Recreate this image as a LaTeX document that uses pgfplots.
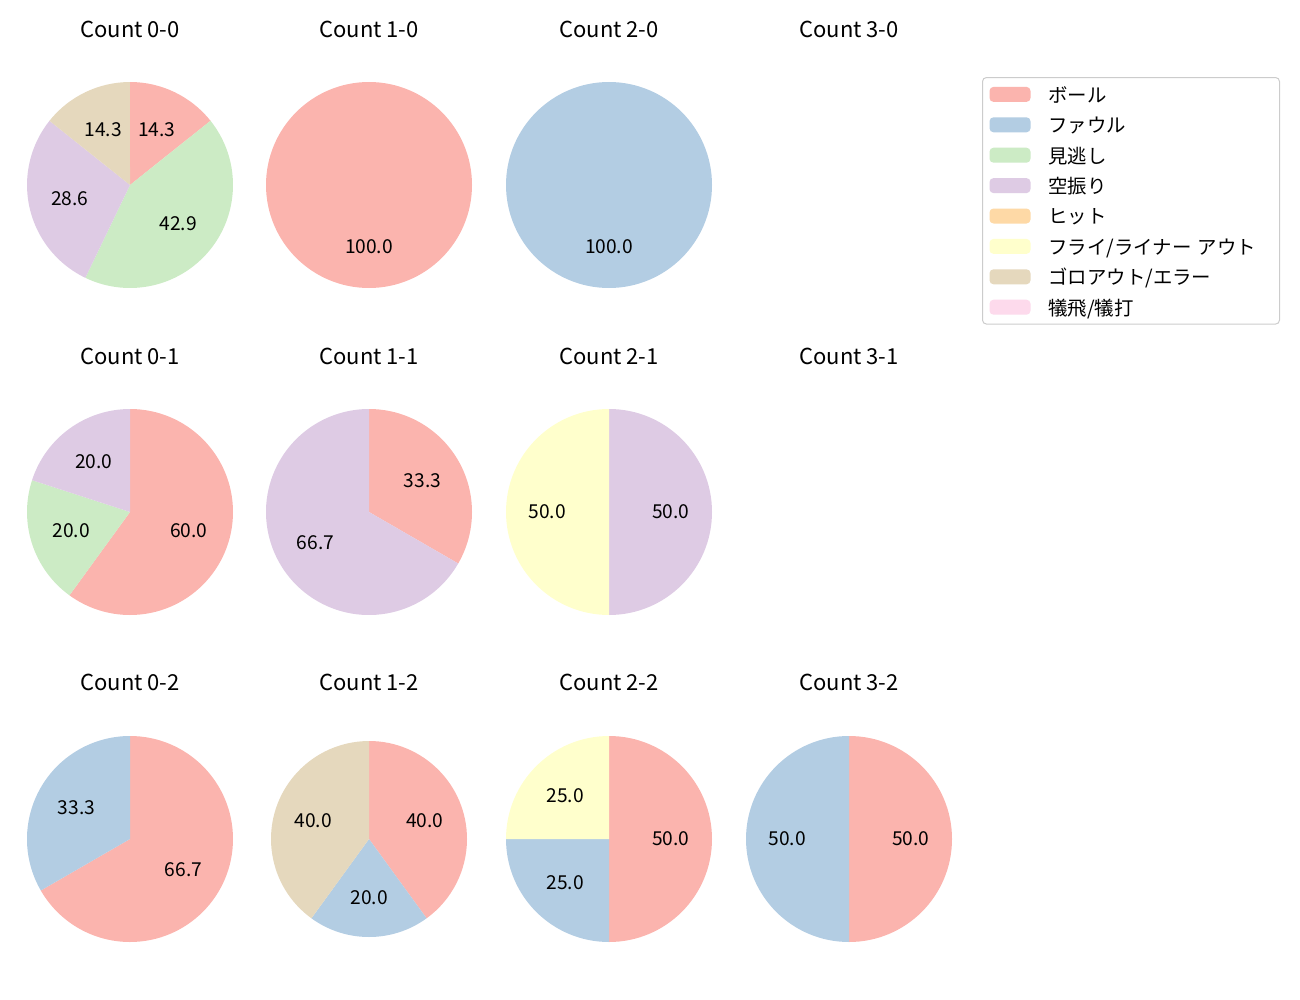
\documentclass[border=0pt]{standalone}
\usepackage{fontspec}
\setmainfont{Noto Sans CJK JP}
\usepackage{pgfplots}
\pgfplotsset{compat=1.18}
\pgfkeys{/pgf/number format/assume math mode=true}
\definecolor{c1}{HTML}{FBB4AE}
\definecolor{c2}{HTML}{B3CDE3}
\definecolor{c3}{HTML}{CCEBC5}
\definecolor{c4}{HTML}{DECBE4}
\definecolor{c5}{HTML}{FED9A6}
\definecolor{c6}{HTML}{FFFFCC}
\definecolor{c7}{HTML}{E5D8BD}
\definecolor{c8}{HTML}{FDDAEC}
\newcommand{\R}{51.5pt}
\newcommand{\titlefont}{\fontsize{11}{13}\selectfont}
\newcommand{\lblfont}{\fontsize{9.6}{11}\selectfont}
% \slice{cumulative count}{count}{total}{colour}
\newcommand{\slice}[4]{%
  \fill[#4] (axis cs:0,0) -- (axis cs:{cos(90-360*(#1)/(#3))},{sin(90-360*(#1)/(#3))})
    arc[start angle={90-360*(#1)/(#3)}, end angle={90-360*(#1+#2)/(#3)}, radius=\R] -- cycle;
  \node[font=\lblfont, inner sep=0pt] at (axis cs:{0.6*cos(90-360*(#1+0.5*#2)/(#3))},{0.6*sin(90-360*(#1+0.5*#2)/(#3))})
    {\pgfmathparse{100*(#2)/(#3)}\pgfmathprintnumber[fixed,fixed zerofill,precision=1,assume math mode=true]{\pgfmathresult}};}
\pgfplotsset{pie/.style={scale only axis, width=103pt, height=103pt, hide axis,
  xmin=-1, xmax=1, ymin=-1, ymax=1, anchor=center, clip=false}}
\begin{document}
\begin{tikzpicture}
\useasboundingbox (0,0) rectangle (650pt,-500pt);
% titles
\foreach \cx/\ty/\t in {65/14.5/Count 0-0, 184.5/14.5/Count 1-0, 304.5/14.5/Count 2-0, 424.5/14.5/Count 3-0,
  65/178/Count 0-1, 184.5/178/Count 1-1, 304.5/178/Count 2-1, 424.5/178/Count 3-1,
  65/341/Count 0-2, 184.5/341/Count 1-2, 304.5/341/Count 2-2, 424.5/341/Count 3-2}
  {\node[font=\titlefont] at (\cx pt,-\ty pt) {\t};}
% Count 0-0
\begin{axis}[pie, at={(65pt,-92.5pt)}]
\slice{0}{1}{7}{c1}\slice{1}{3}{7}{c3}\slice{4}{2}{7}{c4}\slice{6}{1}{7}{c7}
\end{axis}
% Count 1-0
\begin{axis}[pie, at={(184.5pt,-92.5pt)}]
\slice{0}{1}{1}{c1}
\end{axis}
% Count 2-0
\begin{axis}[pie, at={(304.5pt,-92.5pt)}]
\slice{0}{1}{1}{c2}
\end{axis}
% Count 0-1
\begin{axis}[pie, at={(65pt,-256pt)}]
\slice{0}{3}{5}{c1}\slice{3}{1}{5}{c3}\slice{4}{1}{5}{c4}
\end{axis}
% Count 1-1
\begin{axis}[pie, at={(184.5pt,-256pt)}]
\slice{0}{1}{3}{c1}\slice{1}{2}{3}{c4}
\end{axis}
% Count 2-1
\begin{axis}[pie, at={(304.5pt,-256pt)}]
\slice{0}{1}{2}{c4}\slice{1}{1}{2}{c6}
\end{axis}
% Count 0-2
\begin{axis}[pie, at={(65pt,-419.5pt)}]
\slice{0}{2}{3}{c1}\slice{2}{1}{3}{c2}
\end{axis}
% Count 1-2
\renewcommand{\R}{49pt}
\begin{axis}[pie, width=98pt, height=98pt, at={(184.5pt,-419.5pt)}]
\slice{0}{2}{5}{c1}\slice{2}{1}{5}{c2}\slice{3}{2}{5}{c7}
\end{axis}
\renewcommand{\R}{51.5pt}
% Count 2-2
\begin{axis}[pie, at={(304.5pt,-419.5pt)}]
\slice{0}{2}{4}{c1}\slice{2}{1}{4}{c2}\slice{3}{1}{4}{c6}
\end{axis}
% Count 3-2
\begin{axis}[pie, at={(424.5pt,-419.5pt)}]
\slice{0}{1}{2}{c1}\slice{1}{1}{2}{c2}
\end{axis}
% legend
\begin{axis}[hide axis, scale only axis, width=10pt, height=10pt, at={(491pt,-38.5pt)}, anchor=north west,
  xmin=0, xmax=1, ymin=0, ymax=1,
  legend cell align=left,
  legend image code/.code={\fill[#1, draw=none] (0pt,-3.75pt) rectangle (20.5pt,3.75pt);},
  legend style={at={(0,1)}, anchor=north west, draw=black!20, rounded corners=2pt, line width=0.5pt,
    inner xsep=3.5pt, inner ysep=4.2pt, font=\fontsize{9.7}{11}\selectfont, row sep=6.7pt, column sep=9pt,
    nodes={inner sep=0pt, text height=8.2pt, text depth=0.3pt, text width=112pt}}]
\addlegendimage{fill=c1}\addlegendentry{ボール}
\addlegendimage{fill=c2}\addlegendentry{ファウル}
\addlegendimage{fill=c3}\addlegendentry{見逃し}
\addlegendimage{fill=c4}\addlegendentry{空振り}
\addlegendimage{fill=c5}\addlegendentry{ヒット}
\addlegendimage{fill=c6}\addlegendentry{フライ/ライナー アウト}
\addlegendimage{fill=c7}\addlegendentry{ゴロアウト/エラー}
\addlegendimage{fill=c8}\addlegendentry{犠飛/犠打}
\end{axis}
\end{tikzpicture}
\end{document}
